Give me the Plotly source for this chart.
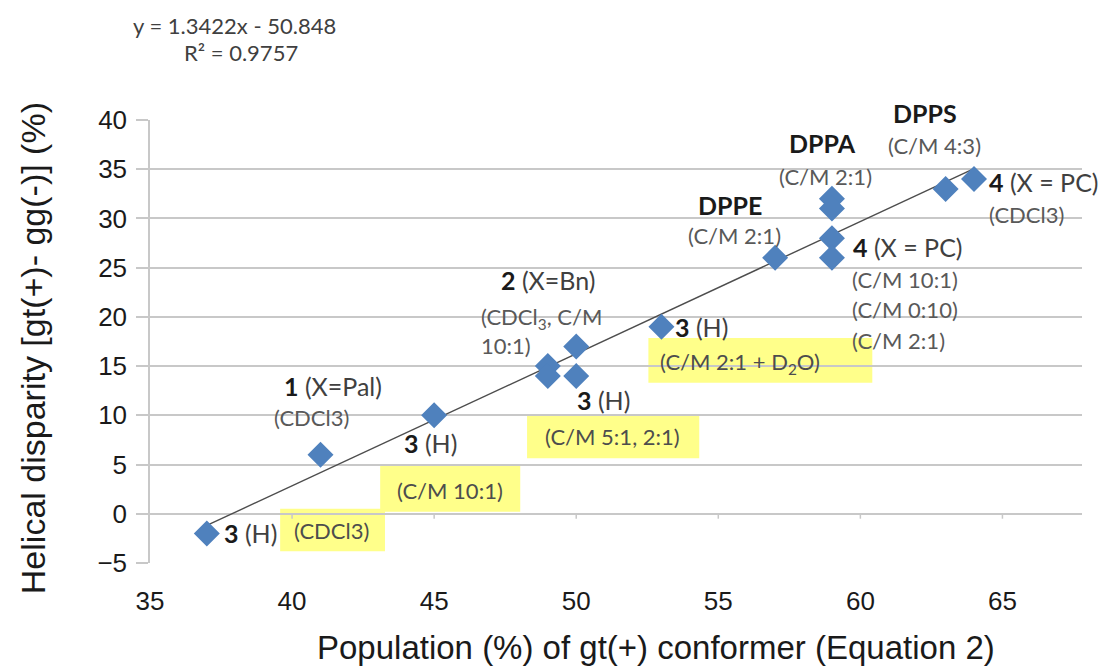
import plotly.graph_objects as go

# ---- data ----
pop_gt = [37, 41, 45, 49, 49, 50, 50, 53, 57, 59, 59, 59, 59, 63, 64]
helical = [-2, 6, 10, 15, 14, 17, 14, 19, 26, 32, 31, 28, 26, 33, 34]

slope = 1.3422
intercept = -50.848
r2 = 0.9757

x_ticks = [35, 40, 45, 50, 55, 60, 65]
y_ticks = [-5, 0, 5, 10, 15, 20, 25, 30, 35, 40]

# ---- styles ----
BLUE = "#4F81BD"
GRID = "#C8C8C8"
DARK = "#1A1A1A"
GRAY = "#595959"
YELLOW = "#FFFF8A"
ANN_FONT = "Lato"
AX_FONT = "Liberation Sans, Arial"
X_RANGE = [35, 67.8]
Y_RANGE = [-5, 40]

fig = go.Figure()

# trend line
tx = [min(pop_gt), max(pop_gt)]
ty = [slope * v + intercept for v in tx]
fig.add_trace(go.Scatter(x=tx, y=ty, mode="lines",
                         line=dict(color="#4D4D4D", width=1.4),
                         hoverinfo="skip", showlegend=False))

fig.add_trace(go.Scatter(x=pop_gt, y=helical, mode="markers",
                         marker=dict(symbol="diamond", size=20, color=BLUE,
                                     line=dict(width=0)),
                         showlegend=False))

# yellow highlight boxes (x0, x1, y0, y1)
boxes = [
    (39.58, 43.27, -3.8, 0.5),
    (43.10, 48.03, 0.2, 4.95),
    (48.27, 54.33, 5.65, 10.05),
    (52.54, 60.42, 13.3, 17.85),
]
for x0, x1, y0, y1 in boxes:
    fig.add_shape(type="rect", xref="x", yref="y", x0=x0, x1=x1, y0=y0, y1=y1,
                  fillcolor=YELLOW, line=dict(width=0), layer="below")

# small tick marks on the horizontal axis (crosses at y=0)
for t in x_ticks[1:]:
    fig.add_shape(type="line", xref="x", yref="y", x0=t, x1=t, y0=0, y1=-0.5,
                  line=dict(color=GRID, width=1.5), layer="below")

B = 25   # bold name size
BN = 25  # numbered label size
N = 22   # normal label size


def ann(text, x, y, size, color, xanchor="center"):
    yp = (y - Y_RANGE[0]) / (Y_RANGE[1] - Y_RANGE[0])
    fig.add_annotation(x=x, y=yp, xref="x", yref="paper", text=text, showarrow=False,
                       xanchor=xanchor, yanchor="middle",
                       font=dict(family=ANN_FONT, size=size, color=color))


def num_label(num, rest, x, y, xanchor="left"):
    ann(f"<b><span style='color:{DARK}'>{num}</span></b> {rest}", x, y, BN, "#404040", xanchor)


# labels
num_label("3", "(H)", 37.54, -1.95)
ann("(CDCl3)", 41.4, -1.65, N, "#4D4D4D")
num_label("1", "(X=Pal)", 41.44, 12.98, "center")
ann("(CDCl3)", 40.67, 9.73, N, GRAY)
num_label("3", "(H)", 43.87, 7.19)
ann("(C/M 10:1)", 45.56, 2.41, N, "#4D4D4D")
num_label("2", "(X=Bn)", 49.01, 23.75, "center")
ann("(CDCl<sub>3</sub>, C/M", 46.58, 19.89, N, GRAY, "left")
ann("10:1)", 46.58, 17.14, N, GRAY, "left")
num_label("3", "(H)", 49.96, 11.56)
ann("(C/M 5:1, 2:1)", 51.27, 7.8, N, "#4D4D4D")
num_label("3", "(H)", 53.42, 18.97)
ann("(C/M 2:1 + D<sub>2</sub>O)", 55.77, 15.3, N, "#4D4D4D")
ann("<b>DPPE</b>", 55.42, 31.37, B, DARK)
ann("(C/M 2:1)", 55.56, 28.22, N, GRAY)
ann("<b>DPPA</b>", 58.66, 37.66, B, DARK)
ann("(C/M 2:1)", 58.77, 34.31, N, GRAY)
ann("<b>DPPS</b>", 62.29, 40.71, B, DARK)
ann("(C/M 4:3)", 62.61, 37.36, N, GRAY)
num_label("4", "(X = PC)", 64.47, 33.70)
ann("(CDCl3)", 64.47, 30.35, N, GRAY, "left")
num_label("4", "(X = PC)", 59.68, 27.10)
ann("(C/M 10:1)", 59.65, 23.75, N, GRAY, "left")
ann("(C/M 0:10)", 59.65, 20.70, N, GRAY, "left")
ann("(C/M 2:1)", 59.65, 17.65, N, GRAY, "left")

# equation
ann(f"y = {slope}x - {abs(intercept)}", 37.99, 49.65, 22, "#404040")
ann(f"R² = {r2}", 38.2, 46.9, 22, "#404040")

# axis titles
fig.add_annotation(x=0.543, y=-0.19, xref="paper", yref="paper",
                   text="Population (%) of gt(+) conformer (Equation 2)",
                   showarrow=False, xanchor="center", yanchor="middle",
                   font=dict(family=AX_FONT, size=33, color="#1A1A1A"))
fig.add_annotation(x=-0.1255, y=0.485, xref="paper", yref="paper",
                   text="Helical disparity [gt(+)- gg(-)] (%)", textangle=-90,
                   showarrow=False, xanchor="center", yanchor="middle",
                   font=dict(family=AX_FONT, size=34, color="#1A1A1A"))

fig.update_xaxes(range=X_RANGE, tickvals=x_ticks, showgrid=False, zeroline=False,
                 ticks="", ticklabelstandoff=20, showline=False,
                 tickfont=dict(family=AX_FONT, size=26, color="#1A1A1A"))
fig.update_yaxes(range=Y_RANGE, tickvals=y_ticks, showgrid=True, gridcolor=GRID,
                 gridwidth=1.5, zeroline=False, ticks="outside", ticklen=12,
                 tickcolor=GRID, tickwidth=1.5, showline=True, linecolor=GRID,
                 linewidth=1.5, ticklabelstandoff=4,
                 tickfont=dict(family=AX_FONT, size=26, color="#1A1A1A"))

fig.update_layout(width=1101, height=668, margin=dict(l=150, r=19, t=120, b=105),
                  plot_bgcolor="white", paper_bgcolor="white", showlegend=False)

fig.write_html("out.html")
